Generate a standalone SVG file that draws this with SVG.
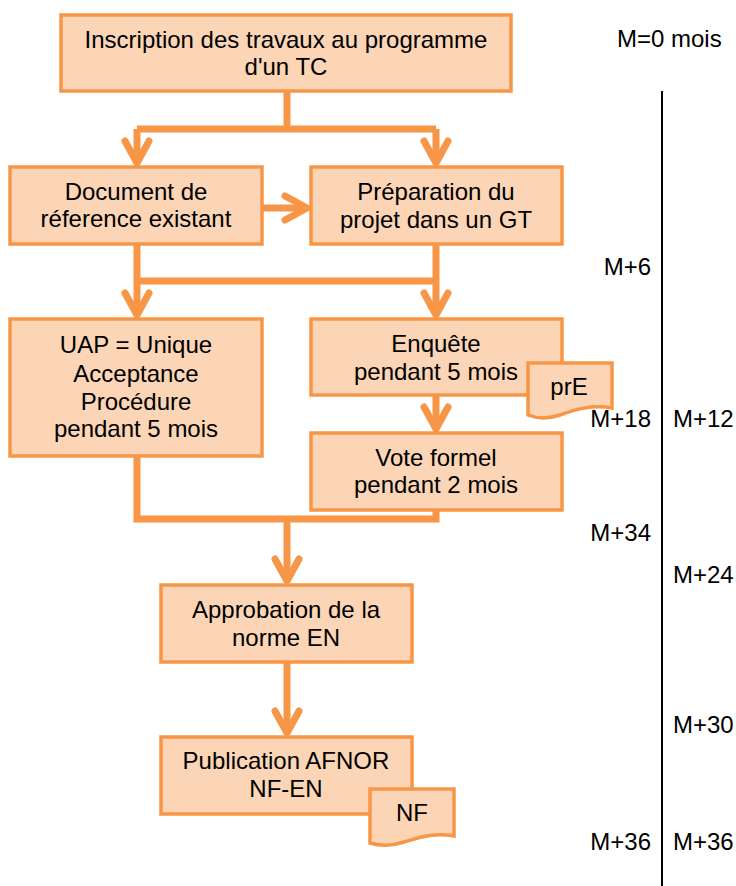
<svg xmlns="http://www.w3.org/2000/svg" width="736" height="886" viewBox="0 0 736 886">
<style>
.box{fill:#FBD5B5;stroke:#F79646;stroke-width:3.5}
.t{font-family:"Liberation Sans",Arial,sans-serif;font-size:24px;fill:#000;text-anchor:middle}
.lbl{font-family:"Liberation Sans",Arial,sans-serif;font-size:24px;fill:#000}
.c{fill:none;stroke:#F79646;stroke-width:7;stroke-linejoin:miter}
.a{marker-end:url(#arr)}
</style>
<defs>
<marker id="arr" markerUnits="userSpaceOnUse" markerWidth="40" markerHeight="40" refX="0" refY="0" orient="auto" overflow="visible" viewBox="-30 -20 40 40">
<path d="M-22,-12 L0,0 L-22,12" fill="none" stroke="#F79646" stroke-width="7" stroke-linecap="round" stroke-linejoin="round"/>
</marker>
</defs>
<rect x="0" y="0" width="736" height="886" fill="#fff"/>
<g id="connectors">
<path class="c" d="M287,91 V129 M137,129 H436"/>
<path class="c a" d="M137,129 V163"/>
<path class="c a" d="M436,129 V163"/>
<path class="c a" d="M262,208 H307"/>
<path class="c" d="M137,281 H436"/>
<path class="c a" d="M137,244 V315"/>
<path class="c a" d="M436,244 V315"/>
<path class="c a" d="M436,395 V429"/>
<path class="c" d="M137,456 V519 H436 V510"/>
<path class="c a" d="M287,519 V581"/>
<path class="c a" d="M287,662 V733"/>
</g>
<g id="n-inscription">
<rect class="box" x="61" y="15" width="450" height="76"/>
<text class="t" x="286" y="48">Inscription des travaux au programme</text>
<text class="t" x="286" y="75">d'un TC</text>
</g>
<g id="n-document">
<rect class="box" x="10" y="167" width="252" height="77"/>
<text class="t" x="136" y="200">Document  de</text>
<text class="t" x="136" y="227">réference existant</text>
</g>
<g id="n-preparation">
<rect class="box" x="311" y="167" width="251" height="77"/>
<text class="t" x="436" y="200">Préparation du</text>
<text class="t" x="436" y="228">projet dans un GT</text>
</g>
<g id="n-uap">
<rect class="box" x="10" y="319" width="252" height="137"/>
<text class="t" x="136" y="353">UAP  = Unique</text>
<text class="t" x="136" y="382">Acceptance</text>
<text class="t" x="136" y="410">Procédure</text>
<text class="t" x="136" y="437">pendant 5 mois</text>
</g>
<g id="n-enquete">
<rect class="box" x="311" y="319" width="251" height="76"/>
<text class="t" x="436" y="352">Enquête</text>
<text class="t" x="436" y="380">pendant 5 mois</text>
</g>
<g id="n-pre">
<path class="box" d="M528,363 H612 V408 C592,404 574,410 560,415 C548,419 538,419 528,415 Z"/>
<text class="t" x="569" y="395">prE</text>
</g>
<g id="n-vote">
<rect class="box" x="311" y="433" width="251" height="77"/>
<text class="t" x="436" y="466">Vote formel</text>
<text class="t" x="436" y="493">pendant 2 mois</text>
</g>
<g id="n-approbation">
<rect class="box" x="161" y="585" width="251" height="77"/>
<text class="t" x="286" y="618">Approbation de la</text>
<text class="t" x="286" y="646">norme EN</text>
</g>
<g id="n-publication">
<rect class="box" x="161" y="737" width="251" height="77"/>
<text class="t" x="286" y="769">Publication AFNOR</text>
<text class="t" x="286" y="797">NF-EN</text>
</g>
<g id="n-nf">
<path class="box" d="M370,789 H454 V836 C434,832 418,838 404,842 C392,846 380,846 370,843 Z"/>
<text class="t" x="412" y="821">NF</text>
</g>
<g id="timeline">
<line x1="662" y1="91" x2="662" y2="886" stroke="#000" stroke-width="2"/>
<text class="lbl" x="617" y="47">M=0 mois</text>
<text class="lbl" x="651" y="275" text-anchor="end">M+6</text>
<text class="lbl" x="651" y="427" text-anchor="end">M+18</text>
<text class="lbl" x="673" y="427">M+12</text>
<text class="lbl" x="651" y="541" text-anchor="end">M+34</text>
<text class="lbl" x="673" y="583">M+24</text>
<text class="lbl" x="673" y="733">M+30</text>
<text class="lbl" x="651" y="850" text-anchor="end">M+36</text>
<text class="lbl" x="673" y="850">M+36</text>
</g>
</svg>
